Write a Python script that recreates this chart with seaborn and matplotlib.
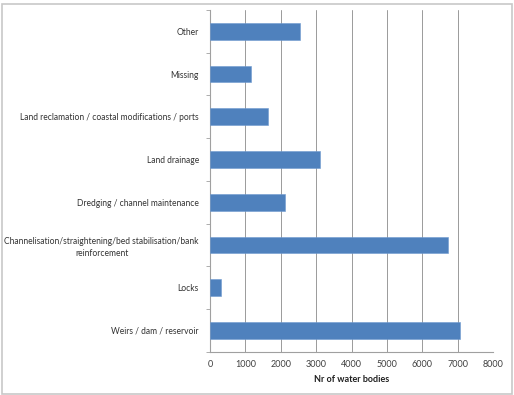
import matplotlib
matplotlib.use("Agg")
import matplotlib.pyplot as plt
import seaborn as sns
import pandas as pd
import numpy as np
from matplotlib.patches import Rectangle

categories = [
    "Other",
    "Missing",
    "Land reclamation / coastal modifications / ports",
    "Land drainage",
    "Dredging / channel maintenance",
    "Channelisation/straightening/bed stabilisation/bank\nreinforcement",
    "Locks",
    "Weirs / dam / reservoir",
]
values = [2540, 1150, 1640, 3100, 2120, 6730, 300, 7060]
x_ticks = [0, 1000, 2000, 3000, 4000, 5000, 6000, 7000, 8000]
x_label = "Nr of water bodies"

sns.set_theme(style="white")
plt.rcParams["font.family"] = ["Lato", "DejaVu Sans"]

df = pd.DataFrame({"category": categories, "value": values})

fig = plt.figure(figsize=(5.14, 3.95), dpi=100)
ax = fig.add_axes([210/514, 1-351.7/395, (493.3-210)/514, (351.7-10)/395])

sns.barplot(data=df, y="category", x="value", orient="h", color="#4F81BD",
            saturation=1, width=0.39, ax=ax, zorder=3, edgecolor="#6f9ad0", linewidth=0.4)

fs = 6.15
ax.set_xlim(0, 8000)
ax.set_ylim(len(categories) - 0.5, -0.5)
ax.set_xticks(x_ticks)
ax.set_xticklabels([str(t) for t in x_ticks], fontsize=fs + 0.3, color="#404040")
ax.tick_params(axis="x", length=0, pad=6)
ax.tick_params(axis="y", which="major", length=0, pad=8)
ax.set_yticks(np.arange(len(categories) + 1) - 0.5, minor=True)
ax.tick_params(axis="y", which="minor", length=3, width=0.6, color="#a0a0a0", direction="out", left=True)

ax.set_ylabel("")
ax.set_xlabel(x_label, fontsize=fs + 0.3, fontweight="bold", color="#202020", labelpad=4)

ax.grid(axis="x", color="#9a9a9a", linewidth=0.7, zorder=0)
ax.grid(axis="y", visible=False)
for s in ["top", "right"]:
    ax.spines[s].set_visible(False)
for s in ["left", "bottom"]:
    ax.spines[s].set_color("#a0a0a0")
    ax.spines[s].set_linewidth(0.8)

fig.patches.append(Rectangle((1.5/514, 1.5/395), 510/514, 390/395, transform=fig.transFigure,
                             fill=False, edgecolor="#c8c8c8", linewidth=1.2))

fig.canvas.draw()
for tick in ax.yaxis.get_major_ticks():
    lbl = tick.label1
    lbl.set_fontsize(fs)
    lbl.set_color("#333333")
    lbl.set_multialignment("center")
    lbl.set_linespacing(1.45)

fig.savefig("out.png", dpi=100)
